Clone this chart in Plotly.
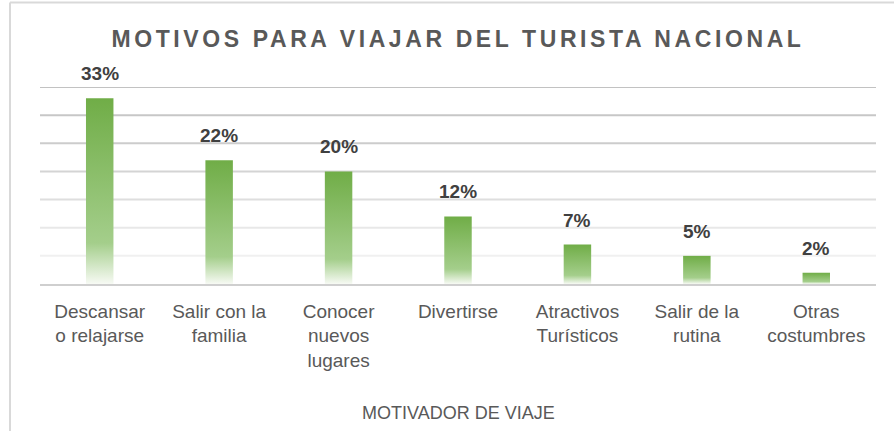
import plotly.graph_objects as go

categories = ["Descansar<br>o relajarse", "Salir con la<br>familia", "Conocer<br>nuevos<br>lugares",
              "Divertirse", "Atractivos<br>Turísticos", "Salir de la<br>rutina", "Otras<br>costumbres"]
values = [33, 22, 20, 12, 7, 5, 2]
grid_ticks = [5, 10, 15, 20, 25, 30, 35]
grid_colors = ["#f0f0f0", "#e8e8e8", "#dedede", "#d4d4d4", "#cccccc", "#c7c7c7", "#c2c2c2"]
title_text = "MOTIVOS PARA VIAJAR DEL TURISTA NACIONAL"
axis_title = "MOTIVADOR DE VIAJE"

W, H = 894, 431
ML, MR, MT, MB = 40, 18, 87, 147
PW, PH = W - ML - MR, H - MT - MB
FONT = "Liberation Sans, Arial, sans-serif"
BAR_HALF = 0.115

fig = go.Figure()
for i, v in enumerate(values):
    fig.add_trace(go.Scatter(
        x=[i - BAR_HALF, i + BAR_HALF, i + BAR_HALF, i - BAR_HALF, i - BAR_HALF],
        y=[0, 0, v, v, 0],
        mode="lines", line=dict(width=0),
        fill="toself",
        fillgradient=dict(type="vertical",
                          colorscale=[[0, "#f7faf4"], [0.22, "#a4ce8b"], [1, "#70ad47"]]),
        showlegend=False, hoverinfo="skip",
    ))

shapes = []
for t, c in zip(grid_ticks, grid_colors):
    shapes.append(dict(type="line", xref="paper", yref="y", x0=0, x1=1, y0=t, y1=t,
                       line=dict(color=c, width=2), layer="below"))
# chart border (left and top)
bx = (10 - ML) / PW
by = (PH + MT - 2.5) / PH
shapes.append(dict(type="line", xref="paper", yref="paper", x0=bx, x1=bx, y0=by, y1=-(MB) / PH,
                   line=dict(color="#d9d9d9", width=2)))
shapes.append(dict(type="line", xref="paper", yref="paper", x0=bx, x1=(W - ML) / PW, y0=by, y1=by,
                   line=dict(color="#d9d9d9", width=2)))

annotations = []
for i, v in enumerate(values):
    annotations.append(dict(x=i, y=v, xref="x", yref="y", text=f"{v}%", showarrow=False,
                            yanchor="bottom", yshift=12,
                            font=dict(family=FONT, size=19, color="#404040", weight="bold")))
annotations.append(dict(x=0.5, y=-(413 - MT - PH) / PH, xref="paper", yref="paper", text=axis_title,
                        showarrow=False, yanchor="middle",
                        font=dict(family=FONT, size=18, color="#595959")))

fig.update_layout(
    width=W, height=H,
    margin=dict(l=ML, r=MR, t=MT, b=MB),
    paper_bgcolor="white", plot_bgcolor="white",
    title=dict(text=f'<span style="letter-spacing:3.6px">{title_text}</span>',
               x=0.5, xref="paper", y=1 - 38.5 / H, yref="container", yanchor="middle",
               font=dict(family=FONT, size=23, color="#595959", weight="bold")),
    xaxis=dict(range=[-0.5, len(values) - 0.5], tickvals=list(range(len(values))), ticktext=categories,
               showgrid=False, zeroline=False, showline=True, linecolor="#cfcfcf", linewidth=1.5,
               ticks="", tickfont=dict(family=FONT, size=19, color="#595959"), ticklabelstandoff=9,
               fixedrange=True),
    yaxis=dict(range=[0, 35], showgrid=False, zeroline=False, showticklabels=False, fixedrange=True),
    shapes=shapes, annotations=annotations,
)
fig.write_html("out.html", config={"displayModeBar": False},
               post_script="document.body.style.margin='0px';document.body.style.overflow='hidden';")
